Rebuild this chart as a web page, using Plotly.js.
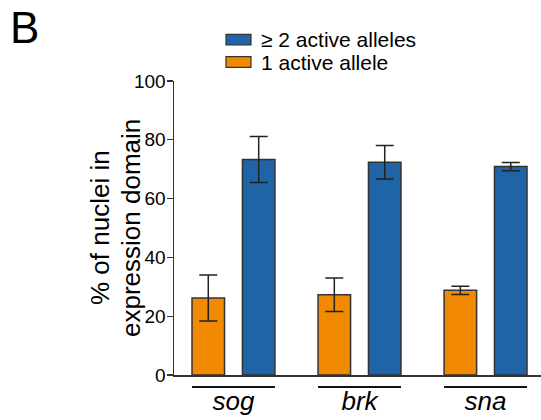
<!DOCTYPE html>
<html>
<head>
<meta charset="utf-8">
<script src="https://cdn.plot.ly/plotly-3.0.1.min.js"></script>
<style>html,body{margin:0;padding:0;background:#fff;}#chart{width:541px;height:420px;}</style>
</head>
<body>
<div id="chart"></div>
<script>
const genes = ["sog", "brk", "sna"];
const oneAllele = [26.2, 27.3, 28.8];
const twoAlleles = [73.3, 72.4, 70.9];
const errorSD = [7.8, 5.7, 1.4];
const tickVals = [0, 20, 40, 60, 80, 100];
const seriesNames = ["\u2265 2 active alleles", "1 active allele"];
const yTitleLines = ["% of nuclei in", "expression domain"];

const orange = "#F18A00";
const blue = "#1F64A7";
const edge = "#333333";
const fontFam = "Liberation Sans, Arial, sans-serif";

const barW = 0.258;
const half = 0.2;

const errStyle = {type: "data", array: errorSD, visible: true, color: "#222", thickness: 1.5, width: 9};

const traces = [
  {type: "bar", x: genes, y: oneAllele, name: seriesNames[1], width: barW, offset: -half - barW/2,
   marker: {color: orange, line: {color: edge, width: 1.5}}, error_y: errStyle, showlegend: false},
  {type: "bar", x: genes, y: twoAlleles, name: seriesNames[0], width: barW, offset: half - barW/2,
   marker: {color: blue, line: {color: edge, width: 1.5}}, error_y: errStyle, showlegend: false}
];

const shapes = genes.map((g, i) => ({
  type: "line", xref: "x", yref: "paper", x0: i - half - barW/2, x1: i + half + barW/2,
  y0: -0.041, y1: -0.041, line: {color: "#111", width: 2}
}));
// legend swatches
const legendColors = [blue, orange];
legendColors.forEach((c, k) => {
  shapes.push({type: "rect", xref: "paper", yref: "paper",
    x0: (226 - 174) / 367, x1: (251 - 174) / 367,
    y0: (375 - (45 + k * 22.3)) / 294, y1: (375 - (34.3 + k * 22.3)) / 294,
    fillcolor: c, line: {color: edge, width: 1.2}});
});

const annotations = [
  {text: "B", xref: "paper", yref: "paper", x: (8 - 174) / 367, y: (375 - 1) / 294,
   xanchor: "left", yanchor: "top", showarrow: false, font: {family: fontFam, size: 44, color: "#000"}}
];
yTitleLines.forEach((t, k) => {
  annotations.push({text: t, xref: "paper", yref: "paper",
   x: ((100 + k * 31) - 174) / 367, y: 0.5, textangle: -90, showarrow: false, xanchor: "center", yanchor: "middle",
   font: {family: fontFam, size: 26, color: "#000"}});
});
seriesNames.forEach((n, k) => {
  annotations.push({text: n, xref: "paper", yref: "paper", x: (259 - 174) / 367,
    y: (375 - (40 + k * 22.3)) / 294, xanchor: "left", yanchor: "middle", showarrow: false,
    font: {family: fontFam, size: 21, color: "#000"}});
});

const layout = {
  width: 541, height: 420,
  margin: {l: 174, r: 0, t: 81, b: 45},
  paper_bgcolor: "#fff", plot_bgcolor: "#fff",
  barmode: "overlay",
  showlegend: false,
  font: {family: fontFam, color: "#000"},
  xaxis: {type: "category", range: [-0.472, 2.44], showline: true, linecolor: edge, linewidth: 1.5,
    ticks: "", showgrid: false, zeroline: false, fixedrange: true,
    tickfont: {family: fontFam, size: 26, style: "italic", color: "#000"}, ticklabelstandoff: 2},
  yaxis: {range: [0, 100], tickvals: tickVals, showline: true, linecolor: edge, linewidth: 1.5,
    ticks: "outside", ticklen: 6, tickwidth: 1.2, tickcolor: edge, showgrid: false, zeroline: false,
    tickfont: {family: fontFam, size: 19, color: "#000"}, ticklabelstandoff: -3},
  shapes: shapes,
  annotations: annotations
};

Plotly.newPlot("chart", traces, layout, {displayModeBar: false, staticPlot: true});
</script>
</body>
</html>
